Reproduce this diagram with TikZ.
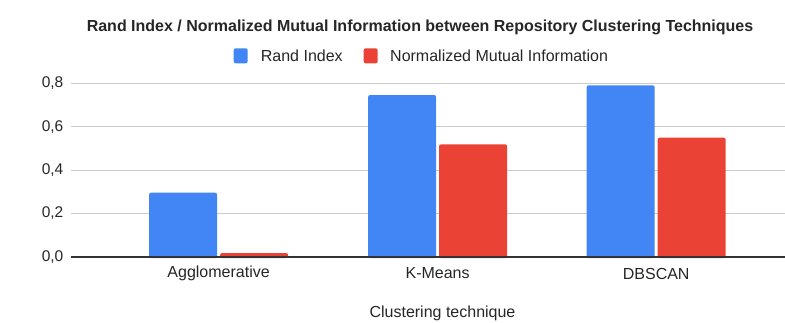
\documentclass[tikz,border=0pt]{standalone}
\usepackage{fontspec}
\setmainfont{Liberation Sans}
\definecolor{gblue}{HTML}{4285F4}
\definecolor{gred}{HTML}{EA4335}
\definecolor{gridc}{HTML}{CCCCCC}
\definecolor{axisc}{HTML}{333333}
\begin{document}
\begin{tikzpicture}[x=1pt,y=-1pt,
  font=\fontsize{16}{19}\selectfont,
  gridline/.style={draw=gridc, line width=1pt},
  axisline/.style={draw=axisc, line width=1.2pt},
  ticklabel/.style={anchor=east, inner sep=0pt, text=black!85, font=\fontsize{15.5}{18}\selectfont},
  catlabel/.style={anchor=center, inner sep=0pt, text=black!85},
  bluebar/.style={fill=gblue, rounded corners=2pt},
  redbar/.style={fill=gred, rounded corners=2pt},
  legsq/.style={minimum width=14pt, minimum height=15pt, inner sep=0pt, rounded corners=2pt},
  legtext/.style={anchor=west, inner sep=0pt, text=black!85}]
\useasboundingbox (0,0) rectangle (785,322);
% grid
\foreach \yy in {83.3,126.7,170,213.3} {\draw[gridline] (71,\yy) -- (785,\yy);}
% tick labels
\node[ticklabel] (t8) at (63.5,83.3) {0,8};
\node[ticklabel] (t6) at (63.5,126.7) {0,6};
\node[ticklabel] (t4) at (63.5,170) {0,4};
\node[ticklabel] (t2) at (63.5,213.3) {0,2};
\node[ticklabel] (t0) at (63.5,257) {0,0};
% bars
\fill[bluebar] (149.1,258) rectangle (217.1,192.7);
\fill[redbar] (220.1,258) rectangle (288.1,253);
\fill[bluebar] (368.1,258) rectangle (436.1,95);
\fill[redbar] (439.1,258) rectangle (507.1,144.3);
\fill[bluebar] (586.7,258) rectangle (654.7,85.3);
\fill[redbar] (657.7,258) rectangle (725.7,137.7);
% axis
\draw[axisline] (71,257) -- (785,257);
% category labels
\node[catlabel] (c1) at (218.6,273.5) {Agglomerative};
\node[catlabel] (c2) at (437.6,273.5) {K-Means};
\node[catlabel] (c3) at (656.2,273.5) {DBSCAN};
% axis title
\node[catlabel] (xt) at (442.5,313) {Clustering technique};
% title
\node[catlabel, font=\fontsize{16}{19}\selectfont\bfseries] (title) at (420,27) {Rand Index / Normalized Mutual Information between Repository Clustering Techniques};
% legend
\node[legsq, fill=gblue] (l1) at (240.7,55.8) {};
\node[legtext] (l1t) at (260.7,55.8) {Rand Index};
\node[legsq, fill=gred] (l2) at (370.7,55.8) {};
\node[legtext] (l2t) at (390,55.8) {Normalized Mutual Information};
\end{tikzpicture}
\end{document}
